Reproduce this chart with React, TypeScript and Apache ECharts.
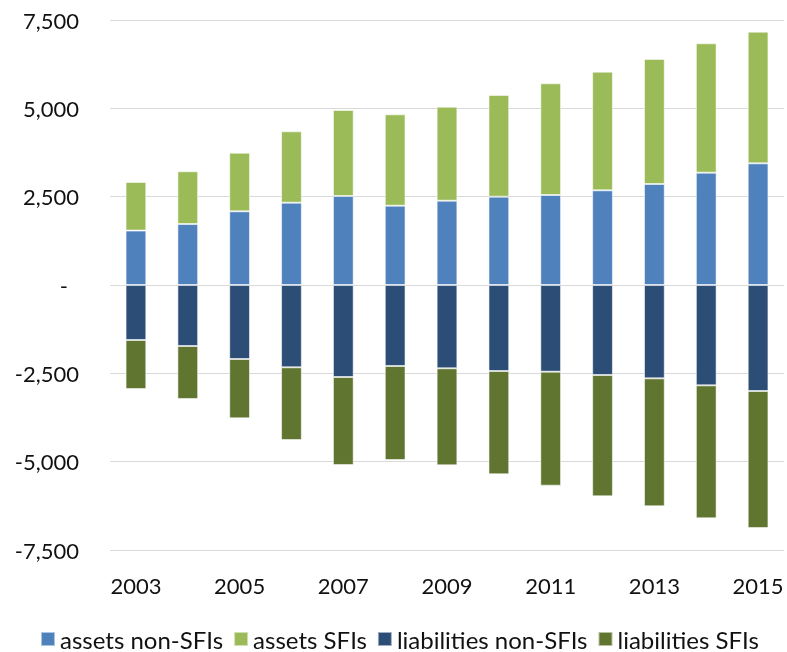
import React, { useEffect, useRef } from "react";
import * as echarts from "echarts";

const years = ["2003", "2004", "2005", "2006", "2007", "2008", "2009", "2010", "2011", "2012", "2013", "2014", "2015"];
const assetsNonSFIs = [1540, 1725, 2085, 2330, 2519, 2245, 2387, 2500, 2547, 2679, 2858, 3179, 3443];
const assetsSFIs = [1375, 1495, 1660, 2019, 2434, 2585, 2660, 2877, 3161, 3359, 3538, 3661, 3727];
const liabilitiesNonSFIs = [-1557, -1726, -2094, -2330, -2604, -2292, -2358, -2434, -2453, -2547, -2642, -2840, -3000];
const liabilitiesSFIs = [-1386, -1500, -1680, -2057, -2490, -2661, -2746, -2924, -3226, -3434, -3622, -3764, -3877];

const FONT = "Lato";

export default function App() {
  const ref = useRef<HTMLDivElement>(null);
  useEffect(() => {
    if (!ref.current) return;
    const chart = echarts.init(ref.current, null, { renderer: "svg" });
    const mk = (name: string, data: number[], color: string) => ({
      name,
      type: "bar",
      stack: "total",
      data,
      barWidth: "40%",
      itemStyle: { color, borderColor: "rgba(255,255,255,0.55)", borderWidth: 1 },
    });
    chart.setOption({
      animation: false,
      textStyle: { fontFamily: FONT },
      grid: { left: 110, right: 3, top: 20, bottom: 102, containLabel: false },
      legend: {
        left: 40,
        top: 627,
        padding: 0,
        itemWidth: 14,
        itemHeight: 14,
        itemGap: 10,
        icon: "rect",
        textStyle: { fontFamily: FONT, fontSize: 24, lineHeight: 24, color: "#111" },
        data: ["assets non-SFIs", "assets SFIs", "liabilities non-SFIs", "liabilities SFIs"],
      },
      xAxis: {
        type: "category",
        data: years,
        axisLine: { show: false, onZero: false },
        axisTick: { show: false },
        axisLabel: { interval: 1, margin: 24, fontFamily: FONT, fontSize: 22, color: "#111" },
      },
      yAxis: {
        type: "value",
        min: -7500,
        max: 7500,
        interval: 2500,
        axisLine: { show: false },
        axisTick: { show: false },
        splitLine: { lineStyle: { color: "#d9d9d9", width: 1 } },
        axisLabel: {
          margin: 31,
          fontFamily: FONT,
          fontSize: 22,
          color: "#111",
          formatter: (v: number) => (v === 0 ? "{d|-}" : v.toLocaleString("en-US")),
          rich: { d: { fontFamily: FONT, fontSize: 22, color: "#111", padding: [0, 11, 0, 0] } },
        },
      },
      series: [
        mk("assets non-SFIs", assetsNonSFIs, "#4F81BD"),
        mk("assets SFIs", assetsSFIs, "#9BBB59"),
        mk("liabilities non-SFIs", liabilitiesNonSFIs, "#2C4D75"),
        mk("liabilities SFIs", liabilitiesSFIs, "#607530"),
      ],
    });
    return () => chart.dispose();
  }, []);
  return <div ref={ref} style={{ position: "fixed", left: 0, top: 0, width: 787, height: 652 }} />;
}
